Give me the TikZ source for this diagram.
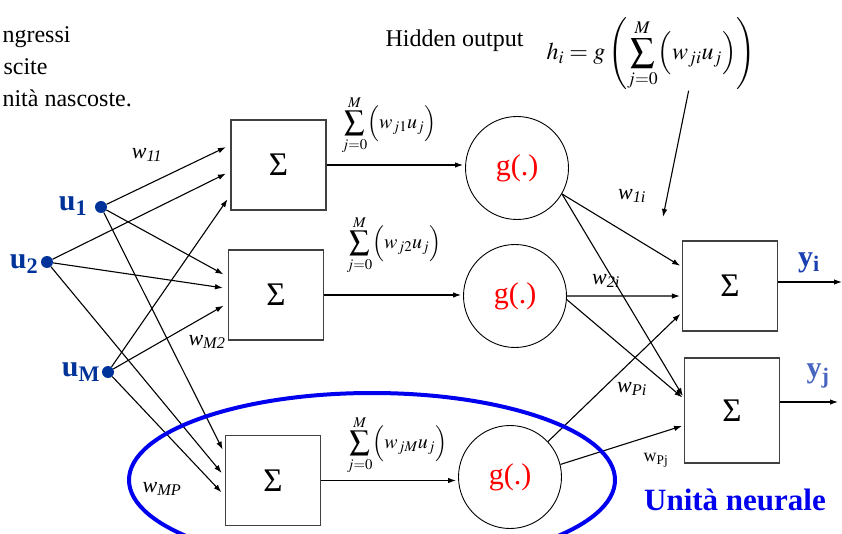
\documentclass[tikz,border=0pt]{standalone}
\usepackage{mathptmx}
\usepackage{fontspec}
\setmainfont{Liberation Serif}
\usetikzlibrary{arrows.meta,calc}
\definecolor{inblue}{HTML}{003399}
\definecolor{outblue}{HTML}{1A3FB0}
\definecolor{unitblue}{HTML}{0000EE}
\definecolor{gred}{HTML}{FF0000}
\definecolor{boxgray}{HTML}{404040}

\tikzset{
  sumbox/.style={draw=boxgray,line width=1.2pt,minimum width=95pt,minimum height=90pt,
    inner sep=0pt,font=\fontsize{33}{38}\selectfont},
  gnode/.style={circle,draw,line width=0.9pt,minimum size=103pt,inner sep=0pt,
    text=gred,font=\fontsize{30}{36}\selectfont},
  indot/.style={circle,fill=inblue,minimum size=12pt,inner sep=0pt},
  wire/.style={-{Latex[length=8pt,width=5.5pt]},line width=1.1pt},
  wlab/.style={font=\fontsize{22}{26}\selectfont\itshape},
  ulab/.style={font=\fontsize{30}{34}\selectfont\bfseries},
  sumlab/.style={font=\fontsize{20}{24}\selectfont,inner sep=0pt},
  plain/.style={font=\fontsize{24}{28}\selectfont},
}

\begin{document}
\begin{tikzpicture}[x=1pt,y=-1pt]
  \useasboundingbox (0,0) rectangle (842,534);

  % titles (cut by the frame on the left)
  \node[plain,anchor=base west] (t1) at (-1,43) {ngressi};
  \node[plain,anchor=base west] (t2) at (0,75) {scite};
  \node[plain,anchor=base west] (t3) at (-1,107) {nità nascoste.};
  \node[plain,anchor=base west] (hid) at (382,47) {Hidden output};
  \node[font=\fontsize{24}{29}\selectfont,inner sep=0pt] (hform) at (651,54)
    {$\displaystyle h_i = g\left(\sum_{j=0}^{M}\Bigl(w_{ji}u_j\Bigr)\right)$};

  % inputs
  \node[indot] (u1) at (101,207) {};
  \node[indot] (u2) at (47,262) {};
  \node[indot] (uM) at (108,372) {};
  \node[ulab,text=inblue] (u1lab) at (73,206) {u\textsubscript{1}};
  \node[ulab,text=inblue] (u2lab) at (24,264) {u\textsubscript{2}};
  \node[ulab,text=inblue] (uMlab) at (81,372) {u\textsubscript{M}};

  % hidden units
  \node[sumbox] (s1) at (278.5,165) {Σ};
  \node[sumbox] (s2) at (276,295) {Σ};
  \node[sumbox] (s3) at (273,480.5) {Σ};
  \node[gnode] (g1) at (517,168) {g(.)};
  \node[gnode] (g2) at (515,296) {g(.)};
  \node[gnode] (g3) at (510,477) {g(.)};

  % output units
  \node[sumbox] (oi) at (730,286) {Σ};
  \node[sumbox,minimum height=105pt] (oj) at (732,410.5) {Σ};
  \node[ulab,text=outblue] (yilab) at (809,263) {y\textsubscript{i}};
  \node[ulab,text=outblue!80!white] (yjlab) at (818,376) {y\textsubscript{j}};

  \foreach \a/\b/\f in {u1/s1/.28,u2/s1/.57,uM/s1/.83,
                        u1/s2/.30,u2/s2/.43,uM/s2/.59,
                        u1/s3/.21,u2/s3/.46,uM/s3/.67} {
    \draw[wire,shorten >=5pt] (\a) -- ($(\b.north west)!\f!(\b.south west)$);
  }

  \foreach \s/\g in {s1/g1,s2/g2,s3/g3}
    \draw[wire,shorten >=2pt] (\s.east) -- (\s.east -| \g.west);

  \foreach \a/\b/\f in {g1.-30/oi/.29,g2.east/oi/.61,g3.43/oi/.79,
                        g1.-30/oj/.38,g2.-4/oj/.39,g3.14/oj/.64} {
    \draw[wire,shorten >=2pt] (\a) -- ($(\b.north west)!\f!(\b.south west)$);
  }

  \coordinate (yiend) at (842,282);
  \coordinate (yjend) at (838,402);
  \draw[wire] (oi.east |- yiend) -- (yiend);
  \draw[wire] (oj.east |- yjend) -- (yjend);

  \coordinate (htip) at (663,217);
  \draw[wire] ($(hform.south west)!.68!(hform.south east)$) -- (htip);

  % sums above the hidden arrows
  \node[sumlab] (sum1) at (389,125) {$\displaystyle\sum_{j=0}^{M}\Bigl(w_{j1}u_j\Bigr)$};
  \node[sumlab] (sum2) at (394,245) {$\displaystyle\sum_{j=0}^{M}\Bigl(w_{j2}u_j\Bigr)$};
  \node[sumlab] (sum3) at (397,445) {$\displaystyle\sum_{j=0}^{M}\Bigl(w_{jM}u_j\Bigr)$};

  % weights
  \node[wlab] (w11) at (147,155) {w\textsubscript{11}};
  \node[wlab] (wM2) at (207,342) {w\textsubscript{M2}};
  \node[wlab] (wMP) at (162,489) {w\textsubscript{MP}};
  \node[wlab] (w1i) at (632,196) {w\textsubscript{1i}};
  \node[wlab] (w2i) at (606,281) {w\textsubscript{2i}};
  \node[wlab] (wPi) at (632,389) {w\textsubscript{Pi}};
  \node[font=\fontsize{18}{22}\selectfont] (wPj) at (656,460) {w\textsubscript{Pj}};

  % neural unit
  \draw[unitblue,line width=4pt] (372,480) ellipse [x radius=243,y radius=87];
  \node[font=\fontsize{31}{36}\selectfont\bfseries,text=unitblue] (unit) at (735,500) {Unità neurale};
\end{tikzpicture}
\end{document}
